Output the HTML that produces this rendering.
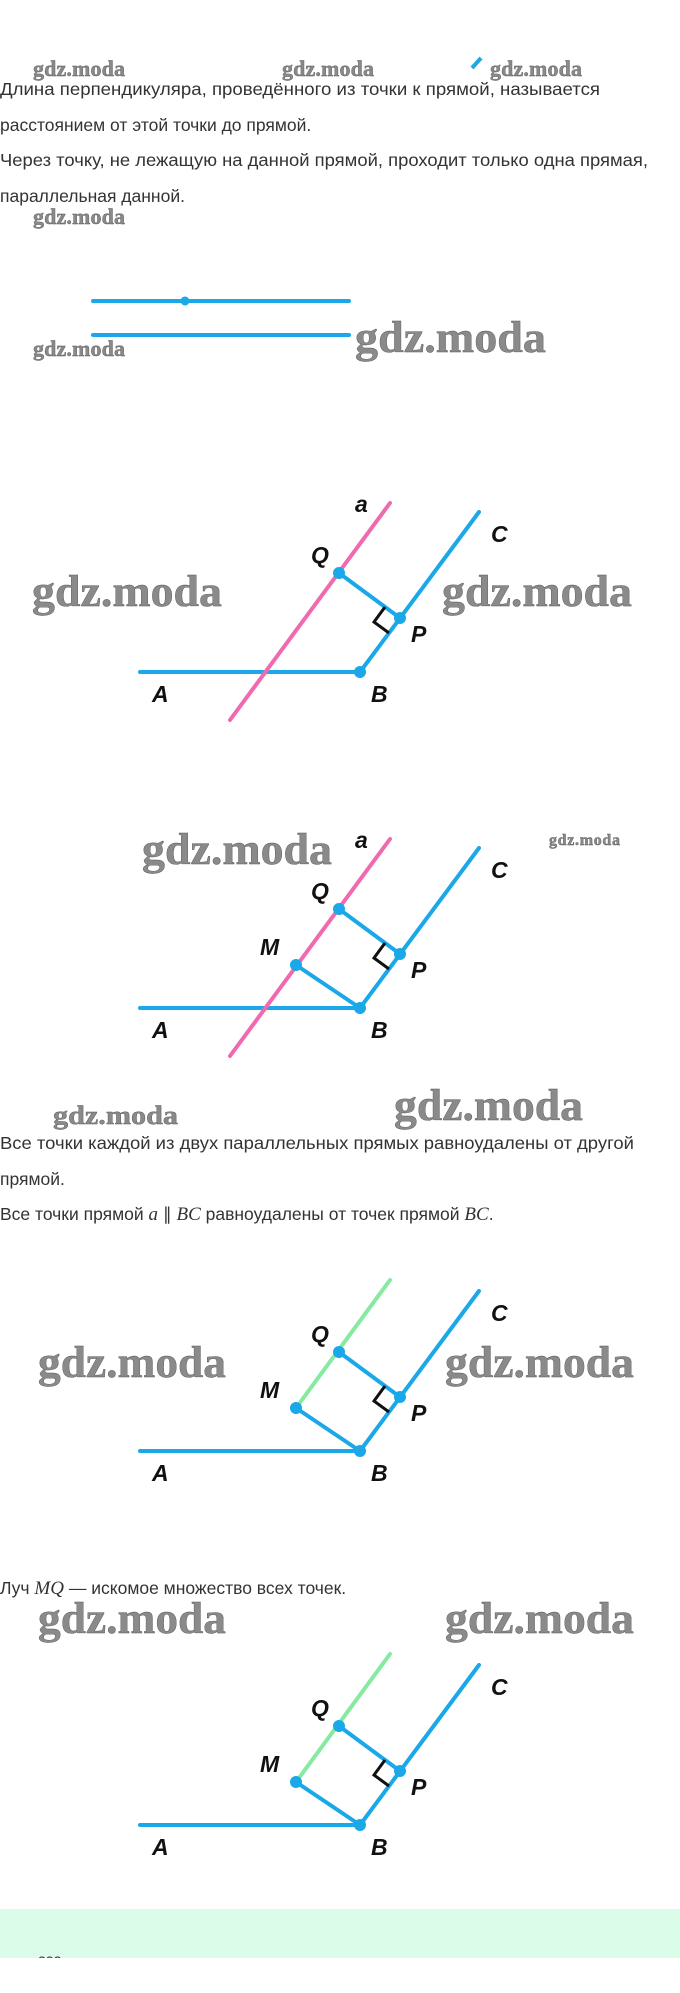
<!DOCTYPE html>
<html><head><meta charset="utf-8"><style>
html,body{margin:0;padding:0;background:#fff;width:680px;height:1993px;overflow:hidden}
svg{display:block}
.t{font-family:"Liberation Sans",sans-serif;font-size:17.5px;fill:#333}
.w{font-family:"Liberation Serif",serif;font-weight:bold;fill:#8a8a8a;stroke:#555;stroke-width:.4}
.L{font-family:"Liberation Sans",sans-serif;font-style:italic;font-weight:bold;font-size:23px;fill:#111;font-stretch:condensed}
.b{stroke:#1ba8e8;stroke-width:4;fill:none;stroke-linecap:round}
.p{stroke:#f06ab0;stroke-width:4;fill:none;stroke-linecap:round}
.g{stroke:#86eaa0;stroke-width:4;fill:none;stroke-linecap:round}
.ra{stroke:#111;stroke-width:3;fill:none}
.d{fill:#1ba8e8}
</style></head><body>
<svg width="680" height="1993" viewBox="0 0 680 1993" xmlns="http://www.w3.org/2000/svg">
<text class="w" x="33" y="76" font-size="22" textLength="92">gdz.moda</text>
<text class="w" x="282" y="76" font-size="22" textLength="92">gdz.moda</text>
<text class="w" x="490" y="76" font-size="22" textLength="92">gdz.moda</text>
<line x1="472" y1="68" x2="481" y2="58" stroke="#1ba8e8" stroke-width="4"/>
<text class="t" x="0" y="95" textLength="600" lengthAdjust="spacingAndGlyphs">Длина перпендикуляра, проведённого из точки к прямой, называется</text>
<text class="t" x="0" y="131">расстоянием от этой точки до прямой.</text>
<text class="t" x="0" y="166" textLength="648" lengthAdjust="spacingAndGlyphs">Через точку, не лежащую на данной прямой, проходит только одна прямая,</text>
<text class="t" x="0" y="202">параллельная данной.</text>
<text class="w" x="33" y="224" font-size="22" textLength="92">gdz.moda</text>
<line class="b" x1="93" y1="301" x2="349" y2="301"/>
<circle class="d" cx="185" cy="301" r="4.5"/>
<line class="b" x1="93" y1="335" x2="349" y2="335"/>
<text class="w" x="33" y="356" font-size="22" textLength="92">gdz.moda</text>
<text class="w" x="355" y="352" font-size="44" textLength="191" lengthAdjust="spacingAndGlyphs">gdz.moda</text>

<g>
<line class="b" x1="140" y1="672" x2="360" y2="672"/>
<line class="p" x1="230" y1="720" x2="390" y2="503"/>
<polyline class="b" points="339,573 400,618"/>
<polyline class="b" points="360,672 479,512"/>
<polyline class="ra" points="385,607 374,622 389,633"/>
<circle class="d" cx="339" cy="573" r="6"/><circle class="d" cx="400" cy="618" r="6"/><circle class="d" cx="360" cy="672" r="6"/>
<text class="L" x="355" y="512">a</text><text class="L" x="311" y="563">Q</text><text class="L" x="411" y="642">P</text>
<text class="L" x="491" y="542">C</text><text class="L" x="371" y="702">B</text><text class="L" x="152" y="702">A</text>
<text class="w" x="32" y="606" font-size="44" textLength="190" lengthAdjust="spacingAndGlyphs">gdz.moda</text>
<text class="w" x="442" y="606" font-size="44" textLength="190" lengthAdjust="spacingAndGlyphs">gdz.moda</text>
</g>

<g transform="translate(0,336)">
<line class="b" x1="140" y1="672" x2="360" y2="672"/>
<line class="p" x1="230" y1="720" x2="390" y2="503"/>
<polyline class="b" points="339,573 400,618"/>
<polyline class="b" points="296,629 360,672"/>
<polyline class="b" points="360,672 479,512"/>
<polyline class="ra" points="385,607 374,622 389,633"/>
<circle class="d" cx="339" cy="573" r="6"/><circle class="d" cx="400" cy="618" r="6"/><circle class="d" cx="360" cy="672" r="6"/><circle class="d" cx="296" cy="629" r="6"/>
<text class="L" x="355" y="512">a</text><text class="L" x="311" y="563">Q</text><text class="L" x="411" y="642">P</text>
<text class="L" x="491" y="542">C</text><text class="L" x="371" y="702">B</text><text class="L" x="152" y="702">A</text>
<text class="L" x="260" y="619">M</text>
</g>
<text class="w" x="142" y="864" font-size="44" textLength="190" lengthAdjust="spacingAndGlyphs">gdz.moda</text>
<text class="w" x="549" y="845" font-size="16" textLength="71">gdz.moda</text>
<text class="w" x="53" y="1124" font-size="26" textLength="125" lengthAdjust="spacingAndGlyphs">gdz.moda</text>
<text class="w" x="394" y="1120" font-size="44" textLength="189" lengthAdjust="spacingAndGlyphs">gdz.moda</text>

<text class="t" x="0" y="1149" textLength="634" lengthAdjust="spacingAndGlyphs">Все точки каждой из двух параллельных прямых равноудалены от другой</text>
<text class="t" x="0" y="1185">прямой.</text>
<text class="t" x="0" y="1220">Все точки прямой <tspan font-family="Liberation Serif" font-style="italic" font-size="19">a</tspan> ∥ <tspan font-family="Liberation Serif" font-style="italic" font-size="19">BC</tspan> равноудалены от точек прямой <tspan font-family="Liberation Serif" font-style="italic" font-size="19">BC</tspan>.</text>

<g transform="translate(0,779)">
<line class="b" x1="140" y1="672" x2="360" y2="672"/>
<line class="g" x1="296" y1="629" x2="390" y2="501"/>
<polyline class="b" points="339,573 400,618"/>
<polyline class="b" points="296,629 360,672"/>
<polyline class="b" points="360,672 479,512"/>
<polyline class="ra" points="385,607 374,622 389,633"/>
<circle class="d" cx="339" cy="573" r="6"/><circle class="d" cx="400" cy="618" r="6"/><circle class="d" cx="360" cy="672" r="6"/><circle class="d" cx="296" cy="629" r="6"/>
<text class="L" x="311" y="563">Q</text><text class="L" x="411" y="642">P</text>
<text class="L" x="491" y="542">C</text><text class="L" x="371" y="702">B</text><text class="L" x="152" y="702">A</text>
<text class="L" x="260" y="619">M</text>
</g>
<text class="w" x="38" y="1377" font-size="44" textLength="188" lengthAdjust="spacingAndGlyphs">gdz.moda</text>
<text class="w" x="445" y="1377" font-size="44" textLength="189" lengthAdjust="spacingAndGlyphs">gdz.moda</text>

<text class="t" x="0" y="1594">Луч <tspan font-family="Liberation Serif" font-style="italic" font-size="19">MQ</tspan> — искомое множество всех точек.</text>
<text class="w" x="38" y="1633" font-size="44" textLength="188" lengthAdjust="spacingAndGlyphs">gdz.moda</text>
<text class="w" x="445" y="1633" font-size="44" textLength="189" lengthAdjust="spacingAndGlyphs">gdz.moda</text>

<g transform="translate(0,1153)">
<line class="b" x1="140" y1="672" x2="360" y2="672"/>
<line class="g" x1="296" y1="629" x2="390" y2="501"/>
<polyline class="b" points="339,573 400,618"/>
<polyline class="b" points="296,629 360,672"/>
<polyline class="b" points="360,672 479,512"/>
<polyline class="ra" points="385,607 374,622 389,633"/>
<circle class="d" cx="339" cy="573" r="6"/><circle class="d" cx="400" cy="618" r="6"/><circle class="d" cx="360" cy="672" r="6"/><circle class="d" cx="296" cy="629" r="6"/>
<text class="L" x="311" y="563">Q</text><text class="L" x="411" y="642">P</text>
<text class="L" x="491" y="542">C</text><text class="L" x="371" y="702">B</text><text class="L" x="152" y="702">A</text>
<text class="L" x="260" y="619">M</text>
</g>

<rect x="0" y="1909" width="680" height="49" fill="#dcfcea"/>
<text x="38" y="1966" font-family="Liberation Sans" font-size="14" fill="#333">222</text>
<rect x="0" y="1958" width="680" height="35" fill="#fff"/>
</svg>
</body></html>
